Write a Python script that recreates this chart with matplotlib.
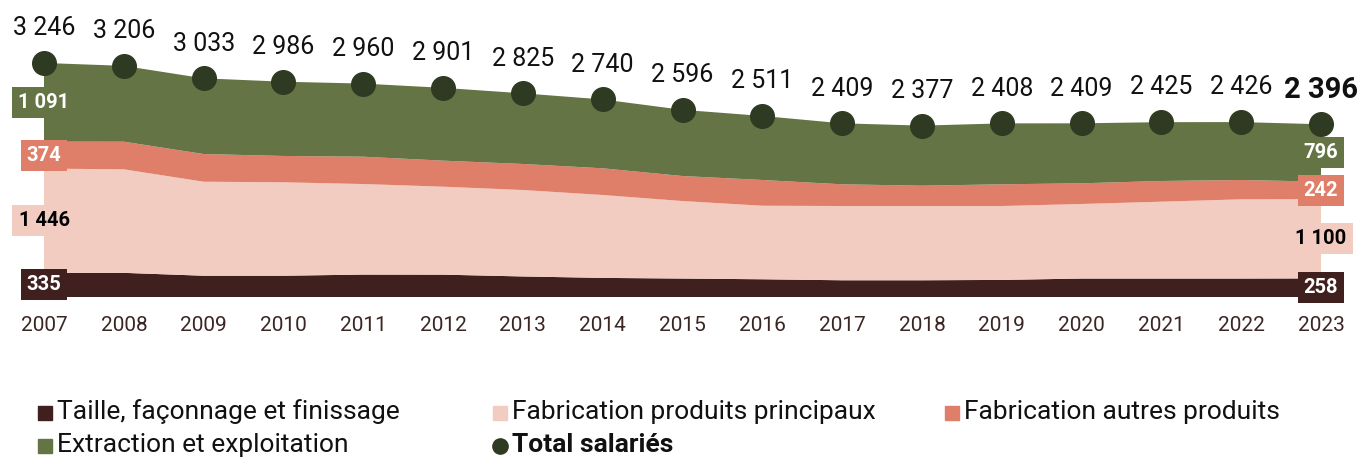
import matplotlib.pyplot as plt

plt.rcParams['font.family'] = ['Roboto', 'DejaVu Sans']

years = list(range(2007, 2024))
taille = [335, 335, 295, 295, 311, 310, 285, 265, 256, 246, 232, 232, 237, 256, 256, 256, 258]
fab_princ = [1446, 1436, 1304, 1296, 1256, 1220, 1199, 1150, 1075, 1020, 1030, 1030, 1025, 1034, 1066, 1099, 1100]
fab_autres = [374, 383, 384, 365, 379, 361, 361, 370, 347, 357, 301, 282, 301, 287, 287, 268, 242]
extraction = [1091, 1052, 1050, 1030, 1014, 1010, 980, 955, 918, 888, 846, 833, 845, 832, 816, 803, 796]
total = [3246, 3206, 3033, 2986, 2960, 2901, 2825, 2740, 2596, 2511, 2409, 2377, 2408, 2409, 2425, 2426, 2396]

names = ["Taille, façonnage et finissage", "Fabrication produits principaux",
         "Fabrication autres produits", "Extraction et exploitation"]
colors = ["#40201e", "#f2cbc1", "#df7e69", "#647444"]
txt_colors = ["white", "black", "white", "white"]
dot_color = "#2f3a22"

fig = plt.figure(figsize=(13.63, 4.58), dpi=100)
ax = fig.add_axes([0, 161 / 458, 1, 297 / 458])
series = [taille, fab_princ, fab_autres, extraction]
ax.stackplot(years, *series, colors=colors, linewidth=0)
ax.plot(years, total, 'o', ms=17, color=dot_color, zorder=3)

ax.set_xlim(2007 - 44 / 79.81, 2023 + 42 / 79.81)
ax.set_ylim(0, 297 / 0.0721)
for s in ax.spines.values():
    s.set_visible(False)
ax.set_yticks([])
ax.set_xticks(years)
ax.tick_params(axis='x', length=0, pad=14, labelsize=15, labelcolor="#3a2623")

# total labels above the dots
for i, (x, t) in enumerate(zip(years, total)):
    lab = f"{t:,}".replace(",", " ")
    last = i == len(years) - 1
    ax.annotate(lab, (x, t), xytext=(0, 25), textcoords='offset points',
                ha='center', va='center', fontsize=21 if last else 18,
                fontweight='bold' if last else 'normal', color="#111111")

# first / last values in boxes
for idx in (0, -1):
    base = 0
    for s, c, tc in zip(series, colors, txt_colors):
        v = s[idx]
        ax.text(years[idx], base + v / 2, f"{v:,}".replace(",", " "),
                ha='center', va='center', fontsize=14.5, fontweight='bold',
                color=tc, zorder=4,
                bbox=dict(boxstyle='square,pad=0.3', fc=c, ec='none'))
        base += v

# legend, drawn by hand in pixel coords
lg = fig.add_axes([0, 0, 1, 161 / 458])
lg.set_xlim(0, 1363)
lg.set_ylim(458, 297)
lg.axis('off')
slots = [(45, 412), (500, 412), (952, 412), (45, 445)]
for (x, y), n, c in zip(slots, names, colors):
    lg.plot(x, y + 1, 's', ms=10, color=c)
    lg.text(x + 12, y, n, ha='left', va='center', fontsize=19, color="#111111")
lg.plot(500, 446, 'o', ms=11, color=dot_color)
lg.text(512, 445, "Total salariés", ha='left', va='center', fontsize=19,
        fontweight='bold', color="#111111")

fig.savefig("out.png", dpi=100)
